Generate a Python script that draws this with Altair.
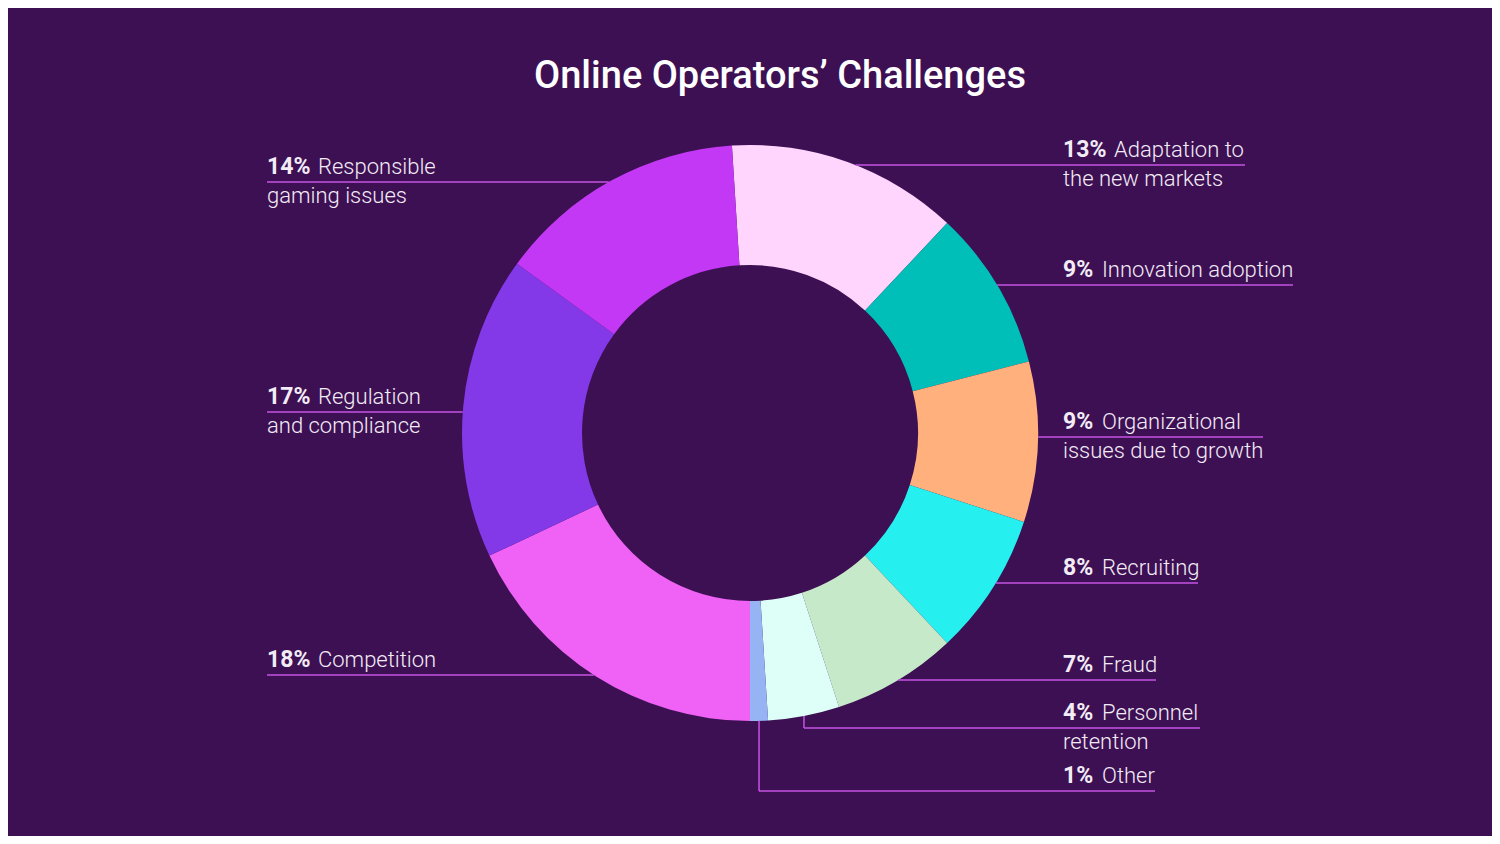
import math
import altair as alt
import pandas as pd

# ---------------- data ----------------
categories = ["Adaptation to the new markets", "Innovation adoption",
              "Organizational issues due to growth", "Recruiting", "Fraud",
              "Personnel retention", "Other", "Competition",
              "Regulation and compliance", "Responsible gaming issues"]
values = [13, 9, 9, 8, 7, 4, 1, 18, 17, 14]
label_line1 = ["Adaptation to", "Innovation adoption", "Organizational", "Recruiting",
               "Fraud", "Personnel", "Other", "Competition", "Regulation", "Responsible"]
label_line2 = ["the new markets", "", "issues due to growth", "", "", "retention", "",
               "", "and compliance", "gaming issues"]
colors = ["#ffd5fd", "#00bfb8", "#ffb07c", "#26eff0", "#c6eac9", "#defff7",
          "#96b4f4", "#ef62f5", "#8439e9", "#c338f5"]

# ---------------- layout (page pixel coordinates) ----------------
M = 8                      # page margin
W, H = 1484, 828
BG = "#3d1053"
CX, CY = 750, 433          # donut centre
R_OUT, R_IN = 288, 168
START = -2 * math.pi * 0.01
side = ["R", "R", "R", "R", "R", "R", "R", "L", "L", "L"]
underline_y = [165, 285, 437, 583, 680, 728, 791, 675, 412, 182]
right_end = [1245, 1293, 1263, 1198, 1156, 1200, 1155, None, None, None]
elbow = [False, False, False, False, False, True, True, False, False, False]
LX_R, LX_L = 1063, 267
LINE_GAP = 29
BASE_OFF = 8
FS = 22
FS_BOLD = 23
DIGIT_W, PCT_W = 12, 27
LINE_COLOR = "#c653e2"
TEXT_COLOR = "#f3ecf7"

df = pd.DataFrame({"cat": categories, "value": values, "idx": range(len(values))})

total = sum(values)
seg_rows, txt_rows = [], []
cum = 0
for i, v in enumerate(values):
    mid = START + 2 * math.pi * (cum + v / 2) / total
    cum += v
    y = underline_y[i]
    if side[i] == "R":
        if elbow[i]:
            x0 = CX + R_OUT * math.sin(mid)
            y0 = CY - R_OUT * math.cos(mid)
            seg_rows.append({"x": x0, "y": y0, "x2": x0, "y2": y})
        else:
            x0 = CX + math.sqrt(R_OUT ** 2 - (y - CY) ** 2)
        seg_rows.append({"x": x0, "y": y, "x2": right_end[i], "y2": y})
        lx = LX_R
    else:
        x0 = CX - math.sqrt(R_OUT ** 2 - (y - CY) ** 2)
        seg_rows.append({"x": LX_L, "y": y, "x2": x0, "y2": y})
        lx = LX_L
    pct = f"{v}%"
    b = y - BASE_OFF
    txt_rows.append({"x": lx, "y": b, "t": pct, "w": "bold"})
    txt_rows.append({"x": lx + DIGIT_W * len(str(v)) + PCT_W, "y": b, "t": label_line1[i], "w": "reg"})
    if label_line2[i]:
        txt_rows.append({"x": lx, "y": b + LINE_GAP, "t": label_line2[i], "w": "reg"})

seg = pd.DataFrame(seg_rows)
for c in ["x", "x2", "y", "y2"]:
    seg[c] = seg[c] - M
txt = pd.DataFrame(txt_rows)
txt["x"] = txt["x"] - M
txt["y"] = txt["y"] - M

XS = alt.Scale(domain=[0, W], range=[0, W])
YS = alt.Scale(domain=[0, H], range=[0, H])

donut = alt.Chart(df).mark_arc(innerRadius=R_IN, outerRadius=R_OUT).encode(
    theta=alt.Theta("value:Q", stack=True,
                    scale=alt.Scale(range=[START, START + 2 * math.pi])),
    color=alt.Color("cat:N", scale=alt.Scale(domain=categories, range=colors), legend=None),
    order=alt.Order("idx:Q"),
    x=alt.value(CX - M),
    y=alt.value(CY - M),
)

lines = alt.Chart(seg).mark_rule(color=LINE_COLOR, strokeWidth=1.5).encode(
    x=alt.X("x:Q", scale=XS, axis=None),
    x2="x2:Q",
    y=alt.Y("y:Q", scale=YS, axis=None),
    y2="y2:Q",
)

bold_txt = alt.Chart(txt[txt.w == "bold"]).mark_text(
    font="Roboto", fontSize=FS_BOLD, fontWeight="bold", color=TEXT_COLOR,
    align="left", baseline="alphabetic").encode(
    x=alt.X("x:Q", scale=XS, axis=None), y=alt.Y("y:Q", scale=YS, axis=None), text="t:N")

reg_txt = alt.Chart(txt[txt.w == "reg"]).mark_text(
    font="Roboto", fontSize=FS, fontWeight=300, color=TEXT_COLOR,
    align="left", baseline="alphabetic").encode(
    x=alt.X("x:Q", scale=XS, axis=None), y=alt.Y("y:Q", scale=YS, axis=None), text="t:N")

title_df = pd.DataFrame({"x": [780 - M], "y": [88 - M], "t": ["Online Operators’ Challenges"]})
title = alt.Chart(title_df).mark_text(
    font="Roboto", fontSize=38, fontWeight=500, color="#ffffff",
    align="center", baseline="alphabetic").encode(
    x=alt.X("x:Q", scale=XS, axis=None), y=alt.Y("y:Q", scale=YS, axis=None), text="t:N")

chart = alt.layer(donut, lines, bold_txt, reg_txt, title).properties(
    width=W, height=H, background=BG, padding=0,
    autosize=alt.AutoSizeParams(type="none"),
).configure_view(stroke=None)

chart.save("out.html", embed_options={"renderer": "svg", "actions": False})
